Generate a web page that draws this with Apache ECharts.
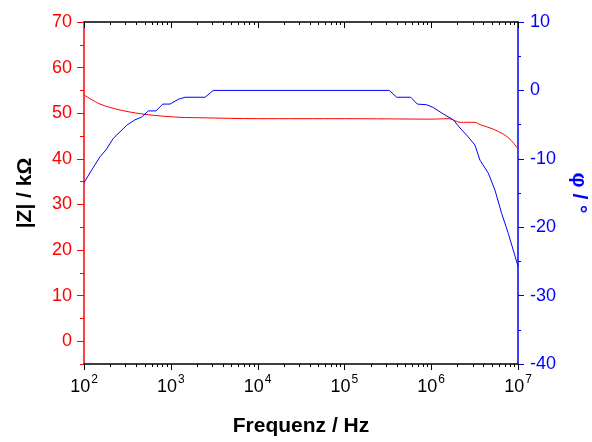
<html lang="de">
<head>
    <meta charset="UTF-8">
    <title>Impedanz</title>
    <script type="text/javascript" src="https://cdn.jsdelivr.net/npm/echarts@6/dist/echarts.min.js"></script>
    <style>
        html, body { margin: 0; padding: 0; background: #fff; }
        #chart { width: 592px; height: 442px; }
    </style>
</head>
<body>
<div id="chart"></div>
<script>
    // |Z| in kOhm (rot)
    var freqZ = [100, 153, 260, 442, 752, 1277, 2170, 10000, 100000, 1000000, 1600000, 2150000, 3190000, 3650000, 5190000, 6780000, 8090000, 10000000];
    var valZ = [54.0, 52.0, 50.7, 49.9, 49.4, 49.1, 49.0, 48.8, 48.8, 48.7, 48.8, 48.0, 48.0, 47.5, 46.5, 45.4, 44.3, 42.2];

    // Phase in Grad (blau)
    var freqPhi = [100, 123, 153, 179, 218, 310, 387, 462, 551, 675, 807, 980, 1220, 1460, 2480, 3090,
        329000, 400000, 581000, 692000, 887000, 1057000, 1377000, 1799000, 2148000, 2673000, 3192000,
        3648000, 4550000, 5433000, 6486000, 7727000, 10000000];
    var valPhi = [-13.5, -11.6, -9.7, -8.7, -7.0, -5.1, -4.3, -3.9, -3.0, -3.0, -2.0, -2.0, -1.3, -1.0, -1.0, 0,
        0, -1.0, -1.0, -2.0, -2.1, -2.5, -3.45, -4.3, -5.5, -6.8, -8.0,
        -10.2, -12.1, -14.6, -18.0, -20.9, -25.7];

    var decadeExp = [2, 3, 4, 5, 6, 7];
    var zTicks = [0, 10, 20, 30, 40, 50, 60, 70];
    var zMinor = [-5, 5, 15, 25, 35, 45, 55, 65];

    // x axis runs on log10(f); tick list: [position, length in px]
    var xTicks = [];
    decadeExp.forEach(function (e) { xTicks.push([e, 6]); });
    for (var d = 0; d < decadeExp.length - 1; d++) {
        for (var k = 2; k <= 9; k++) xTicks.push([decadeExp[d] + Math.log10(k), 3]);
    }

    function pairs(xs, ys) {
        var out = [];
        for (var i = 0; i < xs.length; i++) out.push([Math.log10(xs[i]), ys[i]]);
        return out;
    }

    var font = 'Liberation Sans, Arial, sans-serif';
    var chart = echarts.init(document.getElementById('chart'));

    // short tick lines for the log scale: bottom outside, top inside
    function renderTick(params, api) {
        var x = api.value(0);
        var len = api.value(1);
        var pb = api.coord([x, -5]);
        var pt = api.coord([x, 70]);
        var px = Math.round(pb[0]) + 0.5;
        return {
            type: 'group',
            children: [
                {type: 'line', shape: {x1: px, y1: pb[1], x2: px, y2: pb[1] + len},
                    style: {stroke: '#000', lineWidth: 1}},
                {type: 'line', shape: {x1: px, y1: pt[1], x2: px, y2: pt[1] + len},
                    style: {stroke: '#000', lineWidth: 1}}
            ]
        };
    }

    var option = {
        animation: false,
        grid: {left: 84, right: 74, top: 22, bottom: 78, containLabel: false, outerBoundsMode: 'none'},
        xAxis: [
            {
                type: 'value', min: 2, max: 7, interval: 1, position: 'bottom',
                name: 'Frequenz / Hz', nameLocation: 'middle', nameGap: 52,
                nameTextStyle: {fontFamily: font, fontSize: 21, fontWeight: 'bold', color: '#000'},
                axisLine: {show: true, onZero: false, lineStyle: {color: '#000', width: 1.5}},
                axisTick: {show: false},
                axisLabel: {
                    margin: 10, fontFamily: font, color: '#000',
                    formatter: function (v) {
                        return '{b|10}{s|' + Math.round(v) + '}';
                    },
                    rich: {
                        b: {fontSize: 18, fontFamily: font, color: '#000', lineHeight: 22, verticalAlign: 'bottom'},
                        s: {fontSize: 12, fontFamily: font, color: '#000', lineHeight: 22, verticalAlign: 'top', padding: [0, 0, 0, 1]}
                    }
                },
                splitLine: {show: false}
            },
            {
                type: 'value', min: 2, max: 7, interval: 1, position: 'top',
                axisLine: {show: true, onZero: false, lineStyle: {color: '#000', width: 1.5}},
                axisTick: {show: false},
                axisLabel: {show: false},
                splitLine: {show: false}
            }
        ],
        yAxis: [
            {
                type: 'value', min: -5, max: 70, position: 'left', offset: 0,
                name: '|Z| / kΩ', nameLocation: 'middle', nameGap: 48, nameRotate: 90,
                nameTextStyle: {fontFamily: font, fontSize: 21, fontWeight: 'bold', color: '#000'},
                axisLine: {show: true, onZero: false, lineStyle: {color: '#ff0000', width: 1.5}},
                axisTick: {show: true, customValues: zTicks, length: 7, lineStyle: {color: '#ff0000'}},
                axisLabel: {customValues: zTicks, margin: 12, fontFamily: font, fontSize: 18, color: '#ff0000'},
                splitLine: {show: false}
            },
            {
                type: 'value', min: -5, max: 70, position: 'left', offset: 0,
                axisLine: {show: false, onZero: false},
                axisTick: {show: true, customValues: zMinor, length: 4, lineStyle: {color: '#ff0000'}},
                axisLabel: {show: false},
                splitLine: {show: false}
            },
            {
                type: 'value', min: -40, max: 10, interval: 10, position: 'right', offset: 0,
                name: 'φ / °', nameLocation: 'middle', nameGap: 50, nameRotate: -90,
                nameTextStyle: {fontFamily: font, fontSize: 21, fontWeight: 'bold', color: '#0000ff'},
                axisLine: {show: true, onZero: false, lineStyle: {color: '#0000ff', width: 1.5}},
                axisTick: {show: true, length: 6, lineStyle: {color: '#0000ff'}},
                minorTick: {show: true, splitNumber: 2, length: 3, lineStyle: {color: '#0000ff'}},
                axisLabel: {margin: 12, fontFamily: font, fontSize: 18, color: '#0000ff'},
                splitLine: {show: false}
            }
        ],
        series: [
            {
                name: 'xticks', type: 'custom', xAxisIndex: 0, yAxisIndex: 0,
                renderItem: renderTick, data: xTicks, clip: false, silent: true,
                encode: {x: 0}, z: 5
            },
            {
                name: '|Z|', type: 'line', xAxisIndex: 0, yAxisIndex: 0,
                data: pairs(freqZ, valZ), showSymbol: false, smooth: 0.3,
                lineStyle: {color: '#ff0000', width: 1}
            },
            {
                name: 'phi', type: 'line', xAxisIndex: 0, yAxisIndex: 2,
                data: pairs(freqPhi, valPhi), showSymbol: false,
                lineStyle: {color: '#0000ff', width: 1}
            }
        ]
    };
    chart.setOption(option);
</script>
</body>
</html>
